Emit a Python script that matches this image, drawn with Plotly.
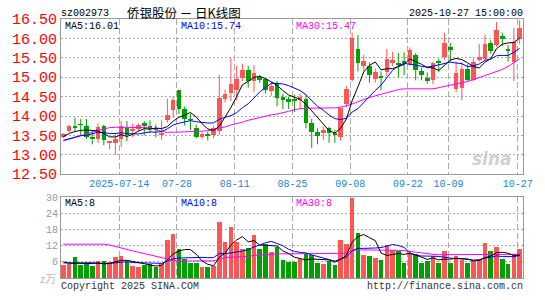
import pandas as pd
import plotly.graph_objects as go

# ---------------- data ----------------
opens = [13.45, 13.62, 13.72, 13.79, 13.73, 13.45, 13.42, 13.75, 13.32, 13.31,
         13.42, 13.68, 13.62, 13.66, 13.81, 13.74, 13.68, 13.50, 13.91, 14.16,
         14.66, 14.18, 13.92, 13.68, 13.47, 13.53, 13.52, 13.62, 14.44, 14.60,
         14.67, 14.97, 15.18, 14.91, 15.00, 14.95, 14.64, 14.85, 14.50, 14.43,
         14.45, 14.41, 14.43, 13.83, 13.60, 13.57, 13.68, 13.53, 13.45, 14.32,
         14.94, 15.72, 15.30, 15.30, 14.96, 15.02, 15.13, 15.36, 15.36, 15.41,
         15.33, 15.58, 15.17, 14.99, 14.92, 15.40, 15.52, 15.79, 14.69, 14.72,
         15.22, 14.94, 15.44, 15.48, 15.87, 15.82, 16.07, 15.71, 15.40, 15.98]
highs = [13.56, 13.77, 13.96, 13.92, 13.92, 13.64, 13.81, 13.77, 13.36, 13.56,
         13.87, 13.87, 13.81, 13.81, 13.87, 13.89, 13.78, 13.89, 14.45, 14.50,
         14.67, 14.25, 14.06, 13.78, 13.60, 13.60, 13.75, 15.06, 14.68, 15.50,
         15.30, 15.35, 15.29, 15.31, 15.06, 14.98, 14.89, 14.90, 14.58, 14.50,
         14.55, 14.58, 14.53, 13.93, 13.68, 13.73, 13.72, 13.65, 14.22, 14.77,
         16.15, 16.09, 15.58, 15.38, 15.22, 15.15, 15.73, 15.65, 15.62, 15.64,
         15.77, 15.62, 15.25, 15.12, 15.40, 15.48, 16.14, 15.88, 15.40, 15.40,
         15.33, 15.48, 15.86, 16.10, 15.95, 16.42, 16.15, 15.83, 16.27, 16.47]
lows = [13.42, 13.58, 13.60, 13.50, 13.41, 13.27, 13.31, 13.25, 13.14, 13.00,
        13.20, 13.35, 13.45, 13.60, 13.50, 13.56, 13.45, 13.39, 13.83, 13.95,
        14.05, 13.75, 13.64, 13.42, 13.40, 13.37, 13.43, 13.52, 14.35, 14.38,
        14.40, 14.90, 14.73, 14.62, 14.85, 14.58, 14.52, 14.25, 14.18, 14.18,
        14.10, 14.18, 13.68, 13.18, 13.27, 13.38, 13.31, 13.31, 13.36, 14.23,
        14.89, 15.15, 15.16, 14.86, 14.86, 14.66, 15.03, 15.28, 15.00, 15.05,
        15.30, 14.92, 14.92, 14.83, 14.82, 15.13, 15.45, 15.40, 14.61, 14.40,
        14.90, 14.90, 15.40, 15.44, 15.60, 15.78, 15.80, 15.40, 14.90, 15.85]
closes = [13.53, 13.75, 13.70, 13.77, 13.45, 13.43, 13.72, 13.37, 13.35, 13.42,
          13.73, 13.50, 13.64, 13.76, 13.74, 13.66, 13.65, 13.56, 14.03, 14.42,
          14.18, 13.92, 13.90, 13.47, 13.54, 13.51, 13.70, 14.47, 14.58, 14.82,
          14.96, 15.19, 14.91, 15.10, 14.95, 14.67, 14.77, 14.47, 14.42, 14.38,
          14.38, 14.50, 13.83, 13.60, 13.48, 13.65, 13.56, 13.52, 14.20, 14.69,
          16.00, 15.36, 15.42, 15.05, 15.13, 15.00, 15.48, 15.44, 15.33, 15.39,
          15.71, 15.19, 15.05, 14.90, 15.36, 15.37, 15.88, 15.70, 15.11, 15.22,
          14.94, 15.40, 15.52, 15.85, 15.68, 16.22, 15.98, 15.69, 15.90, 16.27]
volumes = [4.6, 5.0, 7.6, 4.8, 5.2, 4.3, 6.0, 6.0, 5.6, 7.6,
           7.9, 5.8, 4.3, 4.1, 4.6, 5.2, 4.1, 5.4, 14.0, 16.1,
           10.6, 6.9, 5.3, 5.3, 4.0, 4.0, 4.4, 20.8, 13.3, 19.0,
           13.3, 10.7, 11.0, 15.7, 10.7, 12.4, 9.6, 11.3, 6.5, 5.7,
           5.7, 6.9, 8.9, 8.3, 5.3, 4.9, 6.3, 4.5, 13.8, 12.6,
           29.6, 16.6, 8.4, 7.9, 7.2, 6.5, 12.0, 10.2, 9.8, 5.4,
           9.0, 8.6, 5.4, 6.2, 8.2, 5.4, 9.8, 5.4, 8.2, 6.6,
           5.4, 6.2, 6.6, 13.0, 9.8, 11.5, 7.0, 5.0, 8.6, 10.6]
# closes / volumes of the 9 sessions before the window (estimated so that the
# MA5 / MA10 lines start where the reference shows them)
prior_close = [13.30, 13.40, 13.30, 13.37, 13.00, 13.35, 13.45, 13.62, 13.40]
prior_vol = [5.0, 5.4, 5.2, 5.3, 5.1, 7.5, 7.6, 5.3, 5.0]
# 30-day moving averages as drawn in the reference
ma30_price = [13.36, 13.40, 13.45, 13.50, 13.54, 13.58, 13.63, 13.67, 13.70, 13.71,
              13.71, 13.71, 13.71, 13.71, 13.71, 13.70, 13.65, 13.60, 13.58, 13.58,
              13.58, 13.59, 13.60, 13.60, 13.61, 13.62, 13.65, 13.68, 13.72, 13.77,
              13.80, 13.84, 13.89, 13.93, 13.97, 14.00, 14.03, 14.05, 14.08, 14.12,
              14.16, 14.19, 14.20, 14.20, 14.20, 14.20, 14.20, 14.21, 14.23, 14.26,
              14.31, 14.37, 14.43, 14.48, 14.52, 14.56, 14.61, 14.65, 14.68, 14.70,
              14.70, 14.70, 14.70, 14.70, 14.70, 14.73, 14.76, 14.79, 14.82, 14.85,
              14.89, 14.94, 14.99, 15.04, 15.09, 15.14, 15.20, 15.28, 15.37, 15.47]
ma30_vol = [12.6, 12.6, 12.6, 12.6, 12.6, 12.6, 12.6, 12.6, 12.3, 11.7,
            11.1, 10.6, 10.1, 9.6, 9.1, 8.5, 8.0, 7.4, 7.0, 6.6,
            6.3, 6.3, 6.3, 6.3, 6.3, 6.3, 6.4, 7.0, 7.6, 7.8,
            7.8, 7.8, 8.0, 8.4, 8.6, 8.8, 9.0, 9.0, 9.0, 9.0,
            9.0, 9.0, 9.0, 9.0, 9.0, 9.0, 9.0, 9.1, 9.2, 9.3,
            10.3, 10.5, 10.5, 10.5, 10.5, 10.5, 10.4, 10.4, 10.3, 10.2,
            9.9, 9.7, 9.5, 9.0, 8.8, 8.7, 8.7, 8.6, 8.6, 8.6,
            8.6, 8.6, 8.6, 8.7, 8.7, 8.7, 8.7, 8.7, 8.8, 8.9]
tick_idx = [10, 20, 30, 40, 50, 60, 67, 79]
tick_text = ["2025-07-14", "07-28", "08-11", "08-25", "09-08", "09-22", "10-09", "10-27"]
price_ticks = [12.5, 13.0, 13.5, 14.0, 14.5, 15.0, 15.5, 16.0, 16.5]
vol_ticks = [6, 12, 18, 24, 30]

# ---------------- derived ----------------
n = len(closes)
x = list(range(n))
c_all = pd.Series(prior_close + closes)
ma5 = c_all.rolling(5).mean().iloc[-n:].tolist()
ma10 = c_all.rolling(10).mean().iloc[-n:].tolist()
v_all = pd.Series(prior_vol + volumes)
vma5 = v_all.rolling(5).mean().iloc[-n:].tolist()
vma10 = v_all.rolling(10).mean().iloc[-n:].tolist()

RED, GREEN = "#ff5555", "#00a000"
up = [c >= o for o, c in zip(opens, closes)]
colors = [RED if u else GREEN for u in up]

fig = go.Figure()
MONO = "Liberation Mono"

# wicks
for col, flag in ((RED, True), (GREEN, False)):
    wx, wy = [], []
    for i in range(n):
        if up[i] == flag:
            wx += [x[i], x[i], None]
            wy += [lows[i], highs[i], None]
    fig.add_trace(go.Scatter(x=wx, y=wy, mode="lines", line=dict(color=col, width=1),
                             hoverinfo="skip", xaxis="x", yaxis="y"))
# bodies
fig.add_trace(go.Bar(x=x, y=[max(abs(c - o), 0.02) for o, c in zip(opens, closes)],
                     base=[min(o, c) for o, c in zip(opens, closes)], width=0.8,
                     marker=dict(color=colors, line=dict(width=0)), xaxis="x", yaxis="y"))
for arr, col in ((ma30_price, "#ff00ff"), (ma10, "#0000ff"), (ma5, "#000000")):
    fig.add_trace(go.Scatter(x=x, y=arr, mode="lines", line=dict(color=col, width=1),
                             xaxis="x", yaxis="y"))

# volume
fig.add_trace(go.Bar(x=x, y=volumes, width=0.8, marker=dict(color=colors, line=dict(width=0)),
                     xaxis="x2", yaxis="y2"))
for arr, col in ((ma30_vol, "#ff00ff"), (vma10, "#0000ff"), (vma5, "#000000")):
    fig.add_trace(go.Scatter(x=x, y=arr, mode="lines", line=dict(color=col, width=1),
                             xaxis="x2", yaxis="y2"))

W, H = 545, 300
ML, MR, MT, MB = 50, 15, 17, 16
PW, PH = W - ML - MR, H - MT - MB
XR = [-0.4167, n - 0.4167]
GRID = "#aaaaaa"
BORDER = "#999999"

def px(v):
    return (v - ML) / PW

def py(v):
    return (H - MB - v) / PH

common_x = dict(range=XR, showgrid=True, gridcolor=GRID, griddash="6px,3px", gridwidth=1,
                tickvals=[k - 0.333 for k in tick_idx], ticks="", zeroline=False,
                showline=True, linecolor=BORDER, linewidth=1, mirror=True, fixedrange=True)

fig.update_layout(
    width=W, height=H, margin=dict(l=ML, r=MR, t=MT, b=MB),
    paper_bgcolor="white", plot_bgcolor="white", showlegend=False, barmode="overlay",
    bargap=0,
    xaxis=dict(**common_x, domain=[0, 1], anchor="y", ticktext=tick_text,
               tickfont=dict(family=MONO, size=10, color="#1a86d0")),
    xaxis2=dict(**common_x, domain=[0, 1], anchor="y2", matches="x", showticklabels=False),
    yaxis=dict(domain=[py(177), 1], range=[12.5, 16.5], tickvals=price_ticks,
               ticktext=[f"{v:.2f}" for v in price_ticks], ticks="",
               tickfont=dict(family=MONO, size=15, color="#ff0000"),
               showgrid=True, gridcolor=GRID, griddash="2px,2px", zeroline=False,
               showline=True, linecolor=BORDER, mirror=True),
    yaxis2=dict(domain=[0, py(201)], range=[0, 30], tickvals=vol_ticks,
                ticktext=[str(v) for v in vol_ticks], ticks="",
                tickfont=dict(family=MONO, size=10, color="#999999"),
                showgrid=True, gridcolor=GRID, griddash="2px,2px", zeroline=False,
                showline=True, linecolor=BORDER, mirror=True),
)

def ann(text, x0, y0, color="#000000", size=10, anchor="left", family=MONO, pad=0):
    fig.add_annotation(text=text, x=px(x0), y=py(y0), xref="paper", yref="paper",
                       xanchor=anchor, yanchor="middle", showarrow=False, borderpad=pad,
                       font=dict(family=family, size=size, color=color))

ann("sz002973", 49, 11)
ann("侨银股份 － 日K线图", 178, 10, size=12.5, anchor="center", family="Noto Sans CJK SC")
ann("2025-10-27 15:00:00", 531, 11, anchor="right")
ann("MA5:16.01", 53, 24.5)
ann("MA10:15.74", 174, 24.5, color="#0000ff")
ann("MA30:15.47", 293, 24.5, color="#ff00ff")
ann("MA5:8", 53, 207.5)
ann("MA10:8", 174, 207.5, color="#0000ff")
ann("MA30:8", 293, 207.5, color="#ff00ff")
ann("Copyright 2025 SINA.COM", 49, 292.5, color="#333333")
ann("http://finance.sina.com.cn", 531, 292.5, color="#333333", anchor="right")
ann("z万", 46, 284, color="#bbbbbb", size=11, anchor="right", family="Noto Sans CJK SC")
ann("<b><i>sina</i></b>", 498, 161, color="#d0d0d0", size=17, anchor="center", family="DejaVu Sans")

fig.write_html("out.html")
